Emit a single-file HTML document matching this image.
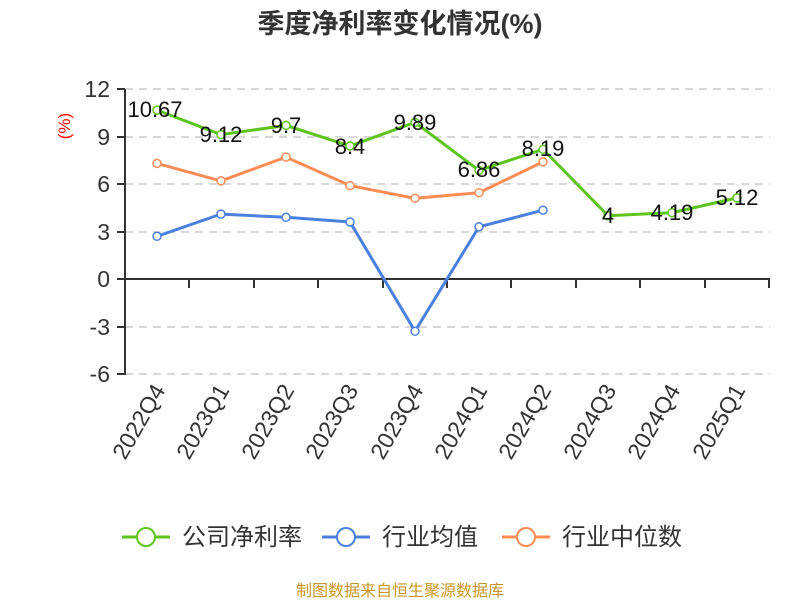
<!DOCTYPE html><html><head><meta charset="utf-8"><style>body{margin:0;background:#fff}</style></head><body>
<svg width="800" height="600" xmlns="http://www.w3.org/2000/svg" font-family="Liberation Sans, Noto Sans CJK SC, sans-serif">
<text x="400" y="33" text-anchor="middle" font-size="27" font-weight="bold" fill="#333">季度净利率变化情况(%)</text>
<text x="70" y="126" fill="red" font-size="17" text-anchor="middle" transform="rotate(-90 70 126)">(%)</text>
<g stroke="#ccc" stroke-dasharray="8,6" stroke-width="1.5">
<line x1="125" x2="770" y1="89" y2="89"/><line x1="125" x2="770" y1="137" y2="137"/><line x1="125" x2="770" y1="184" y2="184"/><line x1="125" x2="770" y1="232" y2="232"/><line x1="125" x2="770" y1="327" y2="327"/><line x1="125" x2="770" y1="374" y2="374"/>
</g>
<g stroke="#333" stroke-width="2">
<line x1="125" x2="125" y1="89" y2="375"/><line x1="125" x2="770" y1="279" y2="279"/>
<line x1="117" x2="125" y1="89" y2="89"/><line x1="117" x2="125" y1="137" y2="137"/><line x1="117" x2="125" y1="184" y2="184"/><line x1="117" x2="125" y1="232" y2="232"/><line x1="117" x2="125" y1="279" y2="279"/><line x1="117" x2="125" y1="327" y2="327"/><line x1="117" x2="125" y1="374" y2="374"/>
<line x1="189" x2="189" y1="279" y2="288"/><line x1="254" x2="254" y1="279" y2="288"/><line x1="318" x2="318" y1="279" y2="288"/><line x1="383" x2="383" y1="279" y2="288"/><line x1="447" x2="447" y1="279" y2="288"/><line x1="511" x2="511" y1="279" y2="288"/><line x1="576" x2="576" y1="279" y2="288"/><line x1="640" x2="640" y1="279" y2="288"/><line x1="705" x2="705" y1="279" y2="288"/><line x1="769" x2="769" y1="279" y2="288"/>
</g>
<g font-size="23" fill="#333" text-anchor="end">
<text x="110" y="97">12</text><text x="110" y="145">9</text><text x="110" y="192">6</text><text x="110" y="240">3</text><text x="110" y="287">0</text><text x="110" y="335">-3</text><text x="110" y="382">-6</text>
</g>
<g font-size="23" fill="#333" text-anchor="end">
<text transform="translate(166,390) rotate(-60)">2022Q4</text>
<text transform="translate(230,390) rotate(-60)">2023Q1</text>
<text transform="translate(295,390) rotate(-60)">2023Q2</text>
<text transform="translate(359,390) rotate(-60)">2023Q3</text>
<text transform="translate(424,390) rotate(-60)">2023Q4</text>
<text transform="translate(488,390) rotate(-60)">2024Q1</text>
<text transform="translate(552,390) rotate(-60)">2024Q2</text>
<text transform="translate(617,390) rotate(-60)">2024Q3</text>
<text transform="translate(681,390) rotate(-60)">2024Q4</text>
<text transform="translate(746,390) rotate(-60)">2025Q1</text>
</g>
<g fill="#fff" stroke-width="3" fill-opacity="1">
<polyline fill="none" stroke="#ff8c55" points="157,163.4 221,180.9 286,157.1 350,185.6 415,198.3 479,192.7 543,161.9"/>
<polyline fill="none" stroke="#4a80e0" points="157,236.3 221,214.1 286,217.3 350,222 415,331.2 479,226.8 543,210.2"/>
<polyline fill="none" stroke="#5cc41a" points="157,110.1 221,134.6 286,125.4 350,146 415,122.4 479,170.4 543,149.3 608,215.7 672,212.7 737,197.9"/>
<g stroke="#ff8c55" stroke-width="1.5"><circle cx="157" cy="163.4" r="4"/><circle cx="221" cy="180.9" r="4"/><circle cx="286" cy="157.1" r="4"/><circle cx="350" cy="185.6" r="4"/><circle cx="415" cy="198.3" r="4"/><circle cx="479" cy="192.7" r="4"/><circle cx="543" cy="161.9" r="4"/></g>
<g stroke="#4a80e0" stroke-width="1.5"><circle cx="157" cy="236.3" r="4"/><circle cx="221" cy="214.1" r="4"/><circle cx="286" cy="217.3" r="4"/><circle cx="350" cy="222" r="4"/><circle cx="415" cy="331.2" r="4"/><circle cx="479" cy="226.8" r="4"/><circle cx="543" cy="210.2" r="4"/></g>
<g stroke="#5cc41a" stroke-width="1.5"><circle cx="157" cy="110.1" r="4"/><circle cx="221" cy="134.6" r="4"/><circle cx="286" cy="125.4" r="4"/><circle cx="350" cy="146" r="4"/><circle cx="415" cy="122.4" r="4"/><circle cx="479" cy="170.4" r="4"/><circle cx="543" cy="149.3" r="4"/><circle cx="608" cy="215.7" r="4"/><circle cx="672" cy="212.7" r="4"/><circle cx="737" cy="197.9" r="4"/></g>
</g>
<g font-size="22" fill="#111" text-anchor="middle">
<text x="155" y="117">10.67</text><text x="221" y="142">9.12</text><text x="286" y="133">9.7</text><text x="350" y="154">8.4</text><text x="415" y="130">9.89</text><text x="479" y="177">6.86</text><text x="543" y="156">8.19</text><text x="608" y="223">4</text><text x="672" y="220">4.19</text><text x="737" y="205">5.12</text>
</g>
<g font-size="24" fill="#333">
<line x1="122" x2="170" y1="537" y2="537" stroke="#5cc41a" stroke-width="3"/><circle cx="146" cy="537" r="9" fill="#fff" stroke="#5cc41a" stroke-width="2"/><text x="182" y="545">公司净利率</text>
<line x1="322" x2="370" y1="537" y2="537" stroke="#4a80e0" stroke-width="3"/><circle cx="346" cy="537" r="9" fill="#fff" stroke="#4a80e0" stroke-width="2"/><text x="382" y="545">行业均值</text>
<line x1="502" x2="550" y1="537" y2="537" stroke="#ff8c55" stroke-width="3"/><circle cx="526" cy="537" r="9" fill="#fff" stroke="#ff8c55" stroke-width="2"/><text x="562" y="545">行业中位数</text>
</g>
<text x="400" y="596" text-anchor="middle" font-size="16" fill="#c8962a">制图数据来自恒生聚源数据库</text>
</svg>
</body></html>
